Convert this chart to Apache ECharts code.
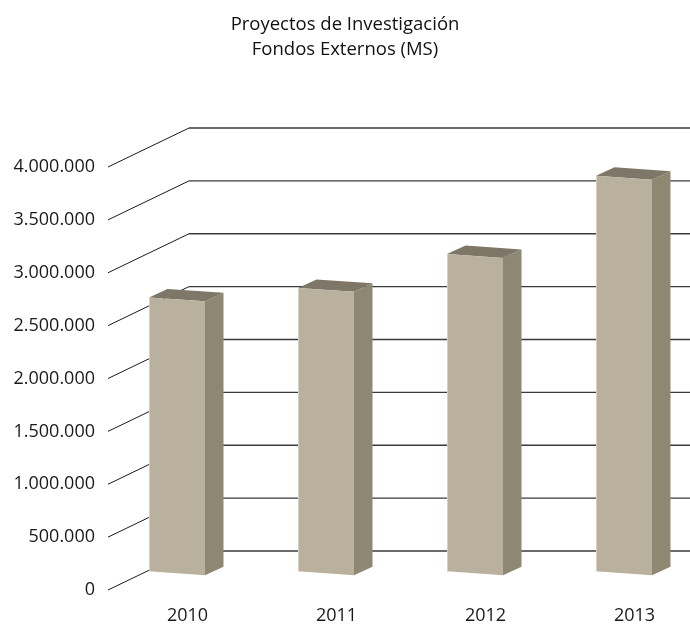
<!DOCTYPE html>
<html>
<head>
<meta charset="utf-8">
<script src="https://cdn.jsdelivr.net/npm/echarts@6/dist/echarts.min.js"></script>
<style>
  html, body { margin: 0; padding: 0; background: #fff; }
  #chart { width: 690px; height: 628px; }
</style>
</head>
<body>
<div id="chart"></div>
<script>
// data
var years = ['2010', '2011', '2012', '2013'];
var fondos = [2590000, 2680000, 3000000, 3740000];
var yTicks = [0, 500000, 1000000, 1500000, 2000000, 2500000, 3000000, 3500000, 4000000];

// fake 3d look (pixels)
var WALL_DEPTH = [81, -39];   // front plane -> back wall
var WALL_SHIFT_X = -5;        // front corner sits a bit left of the grid
var BAR_SHIFT = [-10.5, -16.7];
var BAR_HALF = 28;
var BAR_DEPTH = [18.5, -8.5];
var TILT = 0.07;

var FONT = '"Open Sans", "Noto Sans", sans-serif';

function fmt(v) {
  return String(v).replace(/\B(?=(\d{3})+(?!\d))/g, '.');
}

var chart = echarts.init(document.getElementById('chart'));

function renderWall(params, api) {
  var p = api.coord([0, api.value(1)]);
  var x = params.coordSys.x + WALL_SHIFT_X;
  var y = p[1];
  var bx = x + WALL_DEPTH[0], by = y + WALL_DEPTH[1];
  return {
    type: 'group',
    children: [
      { type: 'line', shape: { x1: x, y1: y, x2: bx, y2: by },
        style: { stroke: '#1a1a1a', lineWidth: 1 } },
      { type: 'line', shape: { x1: bx, y1: by, x2: api.getWidth(), y2: by },
        style: { stroke: '#3a3a3a', lineWidth: 1.3 } }
    ]
  };
}

function renderBar(params, api) {
  var base = api.coord([api.value(0), 0]);
  var top = api.coord([api.value(0), api.value(1)]);
  var cx = base[0] + BAR_SHIFT[0];
  var yb = base[1] + BAR_SHIFT[1];
  var yt = top[1] + BAR_SHIFT[1];
  var x0 = cx - BAR_HALF, x1 = cx + BAR_HALF;
  function pt(xf, y, d) {
    return [xf + d * BAR_DEPTH[0], y + (xf - cx) * TILT + d * BAR_DEPTH[1]];
  }
  return {
    type: 'group',
    children: [
      { type: 'polygon',
        shape: { points: [pt(x1, yt, 0), pt(x1, yt, 1), pt(x1, yb, 1), pt(x1, yb, 0)] },
        style: { fill: '#8e8873' } },
      { type: 'polygon',
        shape: { points: [pt(x0, yt, 0), pt(x0, yt, 1), pt(x1, yt, 1), pt(x1, yt, 0)] },
        style: { fill: '#7e7767' } },
      { type: 'polygon',
        shape: { points: [pt(x0, yt, 0), pt(x1, yt, 0), pt(x1, yb, 0), pt(x0, yb, 0)] },
        style: { fill: '#b9b19e' } },
      { type: 'line',
        shape: { x1: x0 + 0.5, y1: pt(x0, yt, 0)[1], x2: x0 + 0.5, y2: pt(x0, yb, 0)[1] },
        style: { stroke: '#d6d0c0', lineWidth: 1 } }
    ]
  };
}

chart.setOption({
  animation: false,
  title: {
    text: 'Proyectos de Investigación\nFondos Externos (MS)',
    left: 'center',
    top: 7,
    textStyle: { fontFamily: FONT, fontSize: 18.5, fontWeight: 'normal', color: '#111', lineHeight: 25 }
  },
  grid: { left: 113, top: 167, width: 596, height: 423, outerBoundsMode: 'none' },
  xAxis: {
    type: 'category',
    data: years,
    axisLine: { show: false },
    axisTick: { show: false },
    axisLabel: { margin: 17, fontFamily: FONT, fontSize: 18, color: '#1a1a1a' }
  },
  yAxis: {
    type: 'value',
    min: 0,
    max: 4000000,
    interval: 500000,
    axisLine: { show: false },
    axisTick: { show: false },
    splitLine: { show: false },
    axisLabel: {
      margin: 18,
      fontFamily: FONT,
      fontSize: 18,
      color: '#1a1a1a',
      padding: [0, 0, 6, 0],
      formatter: fmt
    }
  },
  series: [
    {
      type: 'custom',
      clip: false,
      z: 1,
      silent: true,
      renderItem: renderWall,
      data: yTicks.map(function (v) { return [0, v]; })
    },
    {
      type: 'custom',
      clip: false,
      z: 2,
      renderItem: renderBar,
      data: fondos.map(function (v, i) { return [i, v]; })
    }
  ]
});
</script>
</body>
</html>
